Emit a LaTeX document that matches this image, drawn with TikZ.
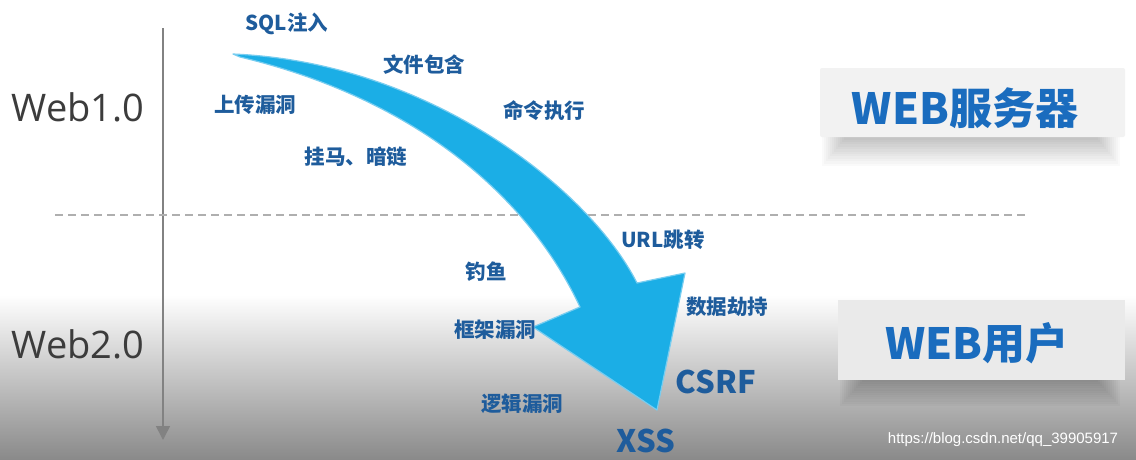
\documentclass[tikz,border=0pt]{standalone}
\usepackage{fontspec}
\setmainfont{Open Sans}
\newfontfamily\cjk{Noto Sans CJK SC}
\newfontfamily\wmfont{Liberation Sans}
\usetikzlibrary{arrows.meta}
\definecolor{lblue}{RGB}{30,92,156}
\definecolor{hblue}{RGB}{26,108,190}
\definecolor{eragray}{RGB}{60,60,60}
\definecolor{bggray}{RGB}{138,138,138}
\definecolor{axgray}{RGB}{130,130,130}
\definecolor{dashgray}{RGB}{175,175,175}
\definecolor{swblue}{RGB}{27,174,230}
\definecolor{swedge}{RGB}{120,205,240}
\definecolor{boxgray}{RGB}{242,242,242}
\definecolor{ubox}{RGB}{234,234,234}
\begin{document}
\begin{tikzpicture}[x=1pt,y=-1pt,
  lbl/.style={font=\cjk\bfseries\fontsize{20.5}{22}\selectfont, text=lblue, inner sep=0pt},
  biglbl/.style={font=\cjk\bfseries\fontsize{31}{33}\selectfont, text=lblue, inner sep=0pt},
  era/.style={font=\fontsize{38}{40}\selectfont, text=eragray, inner sep=0pt},
  hdr/.style={font=\cjk\bfseries\fontsize{43}{46}\selectfont, text=hblue, inner sep=0pt},
  boxstyle/.style={inner sep=0pt},
  axis/.style={draw=axgray, line width=1.6pt, -{Triangle[length=14pt,width=14pt]}},
  divider/.style={draw=dashgray, line width=1.4pt, dash pattern=on 8pt off 5pt},
  swoosh/.style={fill=swblue, draw=swedge, line width=1.2pt, line join=round},
  wm/.style={font=\wmfont\fontsize{15}{17}\selectfont, text=white, inner sep=0pt}]
\useasboundingbox (0,0) rectangle (1136,459);
\fill[white] (0,0) rectangle (1136,459);
\shade[top color=white, bottom color=bggray] (0,295) rectangle (1136,459);

% soft shadows of boxes
\foreach \i in {0,...,11} {
  \fill[black, opacity=0.018] (822+\i*2,137) rectangle (1120-\i*2,166-\i*2.4);
  \fill[black, opacity=0.022] (840+\i*2,380) rectangle (1120-\i*2,406-\i*2.2);
}
% boxes
\fill[boxgray, rounded corners=2pt] (820,68) rectangle (1125,137);
\node[boxstyle] (srvbox) at (972,102) {};
\fill[ubox] (838,300) rectangle (1125,380);
\node[boxstyle] (usrbox) at (981,340) {};
\node[hdr] (srv) at (965,108) {WEB服务器};
\node[hdr] (usr) at (977,343) {WEB用户};

% axis and divider
\coordinate (atop) at (163,28);
\coordinate (abot) at (163,440);
\draw[axis] (atop) -- (abot);
\coordinate (dl) at (55,215);
\coordinate (dr) at (1028,215);
\draw[divider] (dl) -- (dr);

\node[era] (w1) at (78,107) {Web1.0};
\node[era] (w2) at (78,344) {Web2.0};

% swoosh arrow
\fill[swoosh] (233,54) .. controls (430,62) and (590,190) .. (637,283)
  -- (685,273) -- (657,410) -- (533,327) -- (580,307)
  .. controls (530,200) and (420,100) .. (240,57) -- cycle;

% labels
\node[lbl] (sql) at (287,24) {SQL注入};
\node[lbl] (file) at (424,65) {文件包含};
\node[lbl] (upl) at (255,105) {上传漏洞};
\node[lbl] (cmd) at (544,111) {命令执行};
\node[lbl] (gm) at (356,157) {挂马、暗链};
\node[lbl] (url) at (663,240) {URL跳转};
\node[lbl] (fish) at (486,272) {钓鱼};
\node[lbl] (hij) at (727,307) {数据劫持};
\node[lbl] (frm) at (495,330) {框架漏洞};
\node[lbl] (logic) at (522,404) {逻辑漏洞};
\node[biglbl] (csrf) at (716,382) {CSRF};
\node[biglbl] (xss) at (646,441) {XSS};

\node[wm] (mark) at (1003,440) {https://blog.csdn.net/qq\_39905917};
\end{tikzpicture}
\end{document}
